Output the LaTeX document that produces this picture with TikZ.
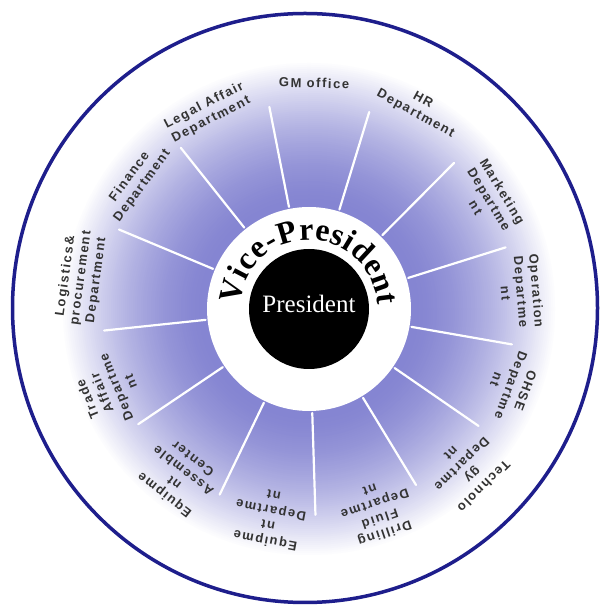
\documentclass[tikz,border=0pt]{standalone}
\usepackage{fontspec}
\setmainfont{Liberation Serif}
\newfontfamily\lblfont{Liberation Sans}[LetterSpace=12]
\usetikzlibrary{calc,decorations.text}
\definecolor{ringblue}{RGB}{80,80,190}
\definecolor{rimnavy}{RGB}{30,30,140}
\tikzset{
  lbl/.style={font=\lblfont\bfseries\fontsize{13}{15.5}\selectfont, align=center, text=black!80, inner sep=0pt},
  spoke/.style={draw=white, line width=2.2pt, line cap=round},
  rim/.style={draw=rimnavy, line width=3.5pt}
}
\begin{document}
\begin{tikzpicture}[x=1pt,y=1pt]
\useasboundingbox (0,0) rectangle (601,610);
\fill[white] (0,0) rectangle (601,610);
\coordinate (I) at (309,301);
\coordinate (O) at (305,302);
% blue radial fade
\foreach \i in {0,...,72} {
  \pgfmathsetmacro\r{248-\i*2}
  \pgfmathsetmacro\p{max(0,70*(1-((\r-104)/144)^1.6))}
  \fill[ringblue!\p!white] (I) circle (\r);
}
% spokes
\foreach \a in {128.5,157.3,101.1,73,45.2,17.4,-9.9,-34.6,-58.7,-88.2,-115.7,-146,-174} {
  \draw[spoke] ($(I)+(\a:104)$) -- ($(I)+(\a:206)$);
}
% centre discs
\fill[white] (I) circle (102);
\fill[black] (I) circle (60);
\node[text=white, font=\fontsize{25}{25}\selectfont] (pres) at (309,306) {President};
\path[decorate, decoration={text along path, text align={fit to path},
  text={|\bfseries\fontsize{32}{32}\selectfont|Vice-President}}]
  ($(I)+(176:69)$) arc[start angle=176, end angle=3, radius=69];
% outer rim
\draw[rim] (O) ellipse [x radius=292.5, y radius=294.5];
% labels
\node[lbl, rotate=-1.3] (gm) at ($(I)+(88.7:226)$) {GM office};
\node[lbl, rotate=-28.6] (hr) at ($(I)+(61.4:230)$) {HR\\Department};
\node[lbl, rotate=-58.7] (mkt) at ($(I)+(31.3:211)$) {Marketing\\Departme\\nt};
\node[lbl, rotate=-85.4] (op) at ($(I)+(4.6:213)$) {Operation\\Departme\\nt};
\node[lbl, rotate=-110.7] (ohse) at ($(I)+(-20.7:216)$) {OHSE\\Departme\\nt};
\node[lbl, rotate=-135.4] (tech) at ($(I)+(-45.4:226)$) {Technolo\\gy\\Departme\\nt};
\node[lbl, rotate=-161.3] (drill) at ($(I)+(-71.3:214)$) {Drilling\\Fluid\\Departme\\nt};
\node[lbl, rotate=-190.7] (equip) at ($(I)+(-100.7:213)$) {Equipme\\nt\\Departme\\nt};
\node[lbl, rotate=-217.8] (assem) at ($(I)+(-127.8:213)$) {Equipme\\nt\\Assemble\\Center};
\node[lbl, rotate=112.1] (trade) at ($(I)+(202.1:216)$) {Trade\\Affair\\Departme\\nt};
\node[lbl, rotate=82.3] (logi) at ($(I)+(172.3:230)$) {Logistics\&\\procurement\\Department};
\node[lbl, rotate=53.6] (fin) at ($(I)+(143.6:215)$) {Finance\\Department};
\node[lbl, rotate=27.3] (legal) at ($(I)+(117.3:221)$) {Legal Affair\\Department};
\end{tikzpicture}
\end{document}
